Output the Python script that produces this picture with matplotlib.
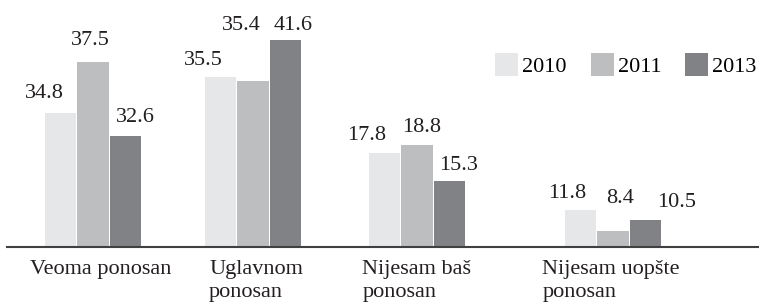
import numpy as np
import matplotlib
matplotlib.use("Agg")
import matplotlib.pyplot as plt
import matplotlib.transforms as mtransforms

# data
categories = ["Veoma ponosan", "Uglavnom\nponosan", "Nijesam baš\nponosan", "Nijesam uopšte\nponosan"]
years = ["2010", "2011", "2013"]
# bar heights as drawn in the source picture
h2010 = [26.8, 34.0, 18.8, 7.4]
h2011 = [37.0, 33.2, 20.5, 3.2]
h2013 = [22.2, 41.4, 13.2, 5.4]
# value labels as printed in the source picture
lab2010 = ["34.8", "35.5", "17.8", "11.8"]
lab2011 = ["37.5", "35.4", "18.8", "8.4"]
lab2013 = ["32.6", "41.6", "15.3", "10.5"]

# layout (pixel-ish units)
COLORS = ["#e6e7e8", "#bcbec0", "#808285"]
centers = [93, 253, 417, 613]
STEP, W = 32.5, 31.5
cat_shift = [8, 3, 0, -2]
# label offsets (dx, dy) in pixels from top-centre of each bar
offs = [
    [(-16, 15), (-3, 17), (9.5, 14)],
    [(-17.5, 12), (-12, 51), (7.5, 10)],
    [(-17.5, 13), (5, 12.5), (9.5, 11)],
    [(-13.5, 12), (7, 28), (31.5, 13)],
]

plt.rcParams["font.family"] = ["Liberation Serif", "DejaVu Serif"]
FS = 16

fig = plt.figure(figsize=(7.59, 3.02), dpi=100)
base = 247
ax = fig.add_axes([7 / 759, (302 - base) / 302, 752 / 759, base / 302])
ax.set_xlim(7, 759)
ax.set_ylim(0, base / 5)

series = [h2010, h2011, h2013]
labels = [lab2010, lab2011, lab2013]
for j, (vals, labs) in enumerate(zip(series, labels)):
    xs = np.array(centers) + (j - 1) * STEP
    ax.bar(xs, vals, width=W, color=COLORS[j], label=years[j], linewidth=0)
    for i, (x, v, t) in enumerate(zip(xs, vals, labs)):
        dx, dy = offs[i][j]
        ax.annotate(t, xy=(x, v), xytext=(dx, dy), textcoords="offset pixels",
                    ha="center", va="baseline", fontsize=FS, color="#231f20")

for sp in ["top", "right", "left"]:
    ax.spines[sp].set_visible(False)
ax.spines["bottom"].set_color("#404041")
ax.spines["bottom"].set_linewidth(1.5)
ax.set_yticks([])
ax.set_xticks([])

trans = mtransforms.blended_transform_factory(ax.transData, ax.transAxes)
for c, s, name in zip(centers, cat_shift, categories):
    ax.text(c + s, -0.051, name, transform=trans, ha="center", va="top",
            multialignment="left", fontsize=FS, color="#231f20", linespacing=1.28)

fig.legend(loc="center left", bbox_to_anchor=(495 / 759, 1 - 65 / 302), ncol=3,
           frameon=False, fontsize=FS, handlelength=1.04, handleheight=1.17,
           handletextpad=0.18, columnspacing=1.08, borderpad=0, borderaxespad=0)

fig.savefig("out.png", dpi=100)
